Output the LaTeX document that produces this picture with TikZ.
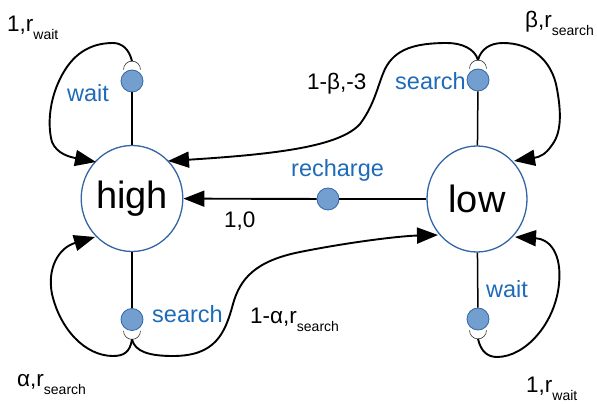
\documentclass[tikz,border=0pt]{standalone}
\usepackage{fontspec}
\setmainfont{Liberation Sans}
\usetikzlibrary{arrows.meta,shapes.geometric}
\definecolor{bord}{HTML}{3465A4}
\definecolor{actfill}{HTML}{729FCF}
\definecolor{bluetxt}{HTML}{1E6BB8}
\newcommand\subtxt[1]{\raisebox{-0.34em}{\fontsize{14}{14}\selectfont #1}}
\tikzset{
  state/.style={ellipse, draw=bord, line width=1.3pt, fill=white, minimum width=100pt, minimum height=106pt, inner sep=0pt, font=\fontsize{38}{40}\selectfont},
  act/.style={circle, draw=bord, line width=0.8pt, fill=actfill, minimum size=22pt, inner sep=0pt},
  actlbl/.style={inner sep=0pt, anchor=base west, text=bluetxt, font=\fontsize{23.5}{26}\selectfont},
  prlbl/.style={inner sep=0pt, anchor=base west, font=\fontsize{22.5}{24}\selectfont},
  stem/.style={line width=1.5pt},
  trans/.style={line width=1.9pt, -{Triangle[length=21pt,width=16pt]}},
  hook/.style={line width=0.6pt, black!80}
}
\begin{document}
\begin{tikzpicture}[x=1pt,y=1pt]
\useasboundingbox (0,0) rectangle (597,404);
% states
\node[state] (high) at (132,205.5) {high};
\node[state] (low) at (477,205) {low};
% action nodes
\node[act] (wait1) at (132,323) {};
\node[act] (search2) at (478,324) {};
\node[act] (rech) at (328,205) {};
\node[act] (search1) at (132,84.5) {};
\node[act] (wait2) at (478,85) {};
% stems
\draw[stem] (high) -- (wait1);
\draw[stem] (low) -- (search2);
\draw[stem] (high) -- (search1);
\draw[stem] (low) -- (wait2);
\draw[stem] (low) -- (rech);
\draw[trans] (rech) -- (high);
% hooks
\draw[hook] ([xshift=-8.5pt]wait1.north) arc[start angle=180,end angle=0,radius=8.5pt];
\draw[hook] ([xshift=-8.5pt]search2.north) arc[start angle=180,end angle=0,radius=8.5pt];
\draw[hook] ([xshift=-8.5pt]search1.south) arc[start angle=180,end angle=360,radius=8.5pt];
\draw[hook] ([xshift=-8.5pt]wait2.south) arc[start angle=180,end angle=360,radius=8.5pt];
\coordinate (w1a) at ([yshift=8.5pt]wait1.north);
\coordinate (s2a) at ([yshift=8.5pt]search2.north);
\coordinate (s1a) at ([yshift=-8.5pt]search1.south);
\coordinate (w2a) at ([yshift=-8.5pt]wait2.south);
\coordinate (hUL) at (96,242);
\coordinate (hUR) at (168,243);
\coordinate (hLL) at (95,167);
\coordinate (lUR) at (514,243);
\coordinate (lLL) at (438,169);
\coordinate (lLR) at (515,167);
% loop high wait
\draw[trans] (w1a) .. controls (129,355) and (122,361) .. (113,361)
  .. controls (90,361) and (72,350) .. (60,325)
  .. controls (50,305) and (47,280) .. (52,262)
  .. controls (57,250) and (70,247) .. (hUL);
% loop low search
\draw[trans] (s2a) .. controls (481,355) and (490,361) .. (503,361)
  .. controls (530,361) and (552,345) .. (557,315)
  .. controls (561,293) and (562,272) .. (552,259)
  .. controls (546,250) and (540,247) .. (lUR);
% 1-beta to high
\draw[trans] (s2a) .. controls (475,355) and (462,361) .. (447,361)
  .. controls (415,361) and (395,355) .. (385,335)
  .. controls (378,320) and (375,300) .. (360,280)
  .. controls (340,258) and (280,250) .. (hUR);
% loop high search
\draw[trans] (s1a) .. controls (130,52) and (124,48) .. (113,48)
  .. controls (85,48) and (60,75) .. (52,110)
  .. controls (47,135) and (58,156) .. (hLL);
% 1-alpha to low
\draw[trans] (s1a) .. controls (135,52) and (150,48) .. (173,48)
  .. controls (215,48) and (225,70) .. (233,100)
  .. controls (240,125) and (255,143) .. (300,152)
  .. controls (350,162) and (400,168) .. (lLL);
% loop low wait
\draw[trans] (w2a) .. controls (481,52) and (488,47) .. (497,47)
  .. controls (525,47) and (555,80) .. (559,120)
  .. controls (562,150) and (550,165) .. (lLR);
% action labels
\node[actlbl] (lwait1) at (67,302) {wait};
\node[actlbl] (lsearch2) at (395,314) {search};
\node[actlbl] (lrech) at (291,227) {recharge};
\node[actlbl] (lsearch1) at (152,81) {search};
\node[actlbl] (lwait2) at (486,106) {wait};
% probability/reward labels
\node[prlbl] (p1) at (7,372) {1,r\subtxt{wait}};
\node[prlbl] (p2) at (525,376) {β,r\subtxt{search}};
\node[prlbl] (p3) at (307,314) {1-β,-3};
\node[prlbl] (p4) at (224,176) {1,0};
\node[prlbl] (p5) at (250,80) {1-α,r\subtxt{search}};
\node[prlbl] (p6) at (17,17) {α,r\subtxt{search}};
\node[prlbl] (p7) at (526,11) {1,r\subtxt{wait}};
\end{tikzpicture}
\end{document}
